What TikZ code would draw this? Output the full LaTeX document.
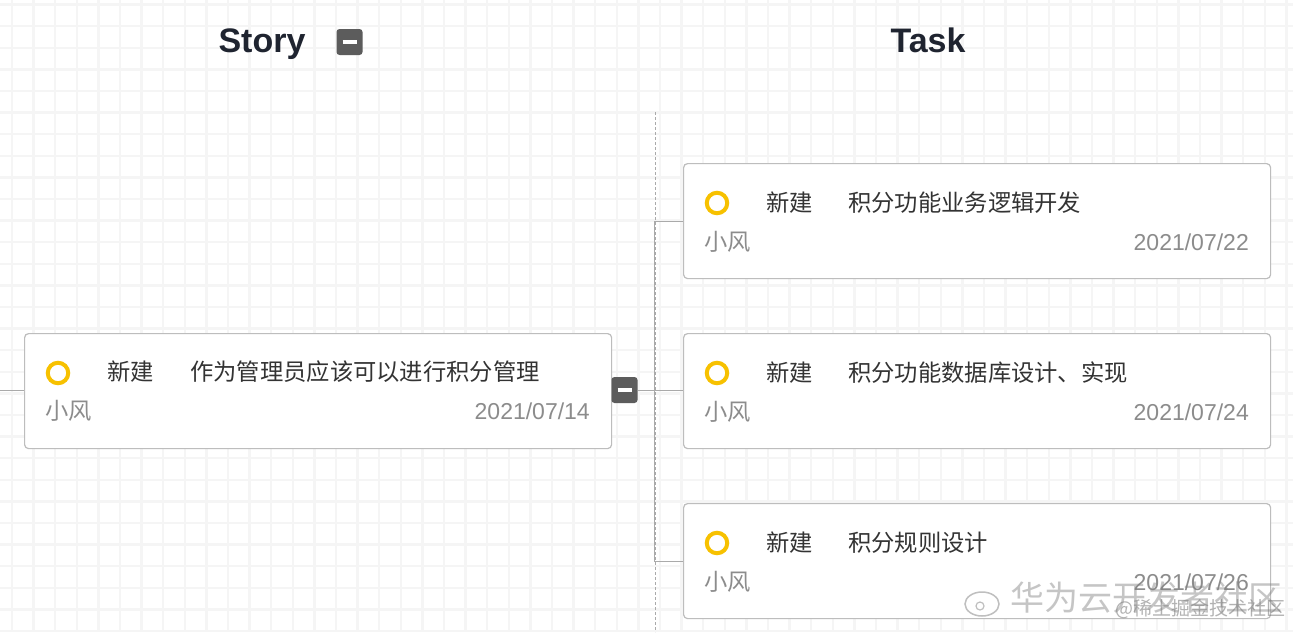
\documentclass[tikz,border=0pt]{standalone}
\usepackage{fontspec}
\usetikzlibrary{shapes.geometric}
\setmainfont{Liberation Sans}
\newfontfamily\cjk{Noto Sans CJK SC}
\definecolor{ringY}{HTML}{F7C100}
\definecolor{boxB}{HTML}{BDBDBD}
\definecolor{txtD}{HTML}{333333}
\definecolor{txtG}{HTML}{8C8C8C}
\definecolor{gridC}{HTML}{F5F5F5}
\definecolor{btnC}{HTML}{5C5C5C}
\definecolor{headC}{HTML}{1F2430}
\definecolor{lineC}{HTML}{AAAAAA}
\tikzset{
  card/.style={draw=boxB, line width=1.2pt, rounded corners=4pt, fill=white},
  ring/.style={draw=ringY, line width=4pt, circle, minimum size=20.5pt, inner sep=0pt},
  stat/.style={font=\cjk\fontsize{23.3}{23.3}\selectfont, text=txtD, anchor=west, inner sep=0pt},
  ttl/.style={font=\cjk\fontsize{23.3}{23.3}\selectfont, text=txtD, anchor=west, inner sep=0pt},
  who/.style={font=\cjk\fontsize{23.3}{23.3}\selectfont, text=txtG, anchor=west, inner sep=0pt},
  datet/.style={font=\fontsize{23}{23}\selectfont, text=txtG, anchor=east, inner sep=0pt},
  head/.style={font=\bfseries\fontsize{34}{34}\selectfont, text=headC, inner sep=0pt, anchor=base},
  btn/.style={fill=btnC, rounded corners=3pt, minimum width=26pt, minimum height=26pt, inner sep=0pt},
  conn/.style={draw=lineC, line width=1pt},
}
\begin{document}
\begin{tikzpicture}[x=1pt,y=-1pt]
\useasboundingbox (0,0) rectangle (1293,632);
\fill[white] (0,0) rectangle (1293,632);
% grid
\foreach \i in {0,...,60} {
  \draw[gridC, line width=2.4pt] ({12+21.6*\i},0) -- ({12+21.6*\i},632);
}
\foreach \j in {0,...,30} {
  \draw[gridC, line width=2.4pt] (0,{4.5+21.6*\j}) -- (1293,{4.5+21.6*\j});
}
% headers
\node[head] (hstory) at (262,52) {Story};
\node[btn] (bstory) at (349.5,42) {};
\draw[white, line width=3.5pt] ([xshift=-7pt]bstory.center) -- ([xshift=7pt]bstory.center);
\node[head] (htask) at (928,52) {Task};
% column separator
\coordinate (sepT) at (655,112);
\coordinate (sepB) at (655,632);
\draw[lineC, line width=1pt, dash pattern=on 3pt off 2pt] (sepT) -- (sepB);
% story card
\node[card, minimum width=587pt, minimum height=115pt, anchor=north west] (story) at (24,333) {};
\coordinate (lin) at (0,390);
\draw[conn] (lin) -- (lin -| story.west);
\node[ring] (sr) at (58,373) {};
\node[stat] (ss) at (107,372) {新建};
\node[ttl] (st) at (190,372) {作为管理员应该可以进行积分管理};
\node[who] (sw) at (45,411) {小风};
\node[datet] (sd) at (590,411) {2021/07/14};
\node[btn] (bmid) at (624.5,390) {};
\draw[white, line width=3.5pt] ([xshift=-7pt]bmid.center) -- ([xshift=7pt]bmid.center);
% task cards
\foreach \n/\y/\t/\d in {1/163/积分功能业务逻辑开发/2021\slash 07\slash 22, 2/333/积分功能数据库设计、实现/2021\slash 07\slash 24, 3/503/积分规则设计/2021\slash 07\slash 26} {
  \node[card, minimum width=587pt, minimum height=115pt, anchor=north west] (task\n) at (683,\y) {};
  \node[ring] (tr\n) at (717,\y+40) {};
  \node[stat] (ts\n) at (766,\y+40) {新建};
  \node[ttl] (tt\n) at (848,\y+40) {\t};
  \node[who] (tw\n) at (704,\y+79) {小风};
  \node[datet] (td\n) at (1249,\y+79) {\d};
}
% connectors
\coordinate (jc) at (654,390);
\draw[conn] (bmid.east) -- (bmid.east -| task2.west);
\draw[conn] (task1.west) -| (jc);
\draw[conn] (task3.west) -| (jc);
% watermark
\node[font=\cjk\fontsize{34}{34}\selectfont, text=gray, text opacity=0.45, anchor=west, inner sep=0pt] (wm1) at (1010,598) {华为云开发者社区};
\node[font=\cjk\fontsize{19}{19}\selectfont, text=gray, text opacity=0.6, anchor=east, inner sep=0pt] (wm2) at (1286,609) {@稀土掘金技术社区};
\node[draw=gray, draw opacity=0.5, ellipse, minimum width=34pt, minimum height=24pt, inner sep=0pt, line width=1.5pt] (wb) at (982,604) {};
\node[draw=gray, draw opacity=0.5, circle, minimum size=8pt, inner sep=0pt, line width=1.2pt] (wbi) at (980,606) {};
\end{tikzpicture}
\end{document}
